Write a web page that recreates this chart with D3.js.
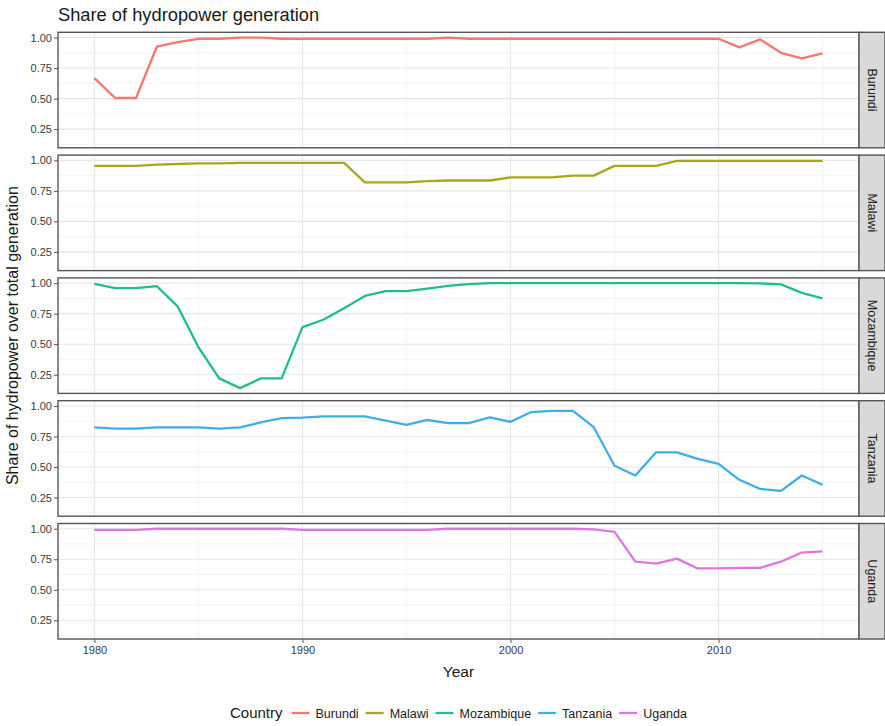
<!DOCTYPE html>
<html><head><meta charset="utf-8">
<script src="https://cdn.jsdelivr.net/npm/d3@7/dist/d3.min.js"></script>
<style>
body{margin:0;background:#fff;}
svg{display:block;font-family:"Liberation Sans",Arial,Helvetica,sans-serif;}
</style>
</head><body>
<svg id="chart" width="885" height="726"></svg>
<script>
// ---------------- DATA ----------------
const years = [1980,1981,1982,1983,1984,1985,1986,1987,1988,1989,
               1990,1991,1992,1993,1994,1995,1996,1997,1998,1999,
               2000,2001,2002,2003,2004,2005,2006,2007,2008,2009,
               2010,2011,2012,2013,2014,2015];

const countries = ["Burundi","Malawi","Mozambique","Tanzania","Uganda"];
const colors = ["#F47870","#A8A818","#22BE86","#3FAEE6","#DE76E2"];

const burundi = [0.667,0.505,0.505,0.925,0.962,0.99,0.99,1.0,1.0,0.99,
                 0.99,0.99,0.99,0.99,0.99,0.99,0.99,1.0,0.99,0.99,
                 0.99,0.99,0.99,0.99,0.99,0.99,0.99,0.99,0.99,0.99,
                 0.99,0.92,0.985,0.875,0.83,0.87];
const malawi = [0.955,0.955,0.955,0.965,0.97,0.975,0.975,0.98,0.98,0.98,
                0.98,0.98,0.98,0.82,0.82,0.82,0.83,0.835,0.835,0.835,
                0.86,0.86,0.86,0.875,0.875,0.955,0.955,0.955,0.995,0.995,
                0.995,0.995,0.995,0.995,0.995,0.995];
const mozambique = [0.995,0.96,0.96,0.975,0.81,0.475,0.22,0.14,0.22,0.22,
                    0.64,0.70,0.795,0.895,0.935,0.935,0.955,0.978,0.992,1.0,
                    1.0,1.0,1.0,1.0,1.0,1.0,1.0,1.0,1.0,1.0,
                    1.0,1.0,0.998,0.99,0.92,0.875];
const tanzania = [0.825,0.815,0.815,0.825,0.825,0.825,0.815,0.825,0.865,0.9,
                  0.905,0.915,0.915,0.915,0.88,0.845,0.885,0.86,0.86,0.907,
                  0.87,0.95,0.96,0.96,0.826,0.51,0.43,0.62,0.62,0.567,
                  0.526,0.395,0.32,0.305,0.43,0.355];
const uganda = [0.99,0.99,0.99,1.0,1.0,1.0,1.0,1.0,1.0,1.0,
                0.99,0.99,0.99,0.99,0.99,0.99,0.99,1.0,1.0,1.0,
                1.0,1.0,1.0,1.0,0.995,0.975,0.73,0.715,0.755,0.675,
                0.675,0.68,0.68,0.73,0.805,0.815];

const seriesValues = [burundi, malawi, mozambique, tanzania, uganda];

const xTicks = [1980,1990,2000,2010];
const xMinor = [1985,1995,2005,2015];
const yTicks = [0.25,0.50,0.75,1.00];
const yMinor = [0.125,0.375,0.625,0.875];

const titleText = "Share of hydropower generation";
const xTitle = "Year";
const yTitle = "Share of hydropower over total generation";
const legendTitle = "Country";

// ---------------- LAYOUT ----------------
const svg = d3.select("#chart");
const plotL = 58, plotR = 859, stripW = 26;
const top0 = 32.3, panelH = 115.5, gap = 7.3;
const FONT = '"Liberation Sans",Arial,Helvetica,sans-serif';

const xExt = d3.extent(years);
const xPad = (xExt[1]-xExt[0])*0.05;
const x = d3.scaleLinear().domain([xExt[0]-xPad, xExt[1]+xPad]).range([plotL, plotR]);

const allV = seriesValues.flat();
const yExt = d3.extent(allV);
const yPad = (yExt[1]-yExt[0])*0.05;
const yDomain = [yExt[0]-yPad, yExt[1]+yPad];

// Title
svg.append("text").attr("x", plotL).attr("y", 21)
  .attr("font-size", 18.3).attr("fill", "#1a1a1a").text(titleText);

countries.forEach((c, i) => {
  const pTop = top0 + i*(panelH+gap);
  const y = d3.scaleLinear().domain(yDomain).range([pTop+panelH, pTop]);
  const g = svg.append("g");

  g.append("rect").attr("x", plotL).attr("y", pTop).attr("width", plotR-plotL).attr("height", panelH)
    .attr("fill", "#fff");

  // minor grid
  g.selectAll(".ymin").data(yMinor.filter(v => v>yDomain[0] && v<yDomain[1])).join("line")
    .attr("x1", plotL).attr("x2", plotR).attr("y1", d=>y(d)).attr("y2", d=>y(d))
    .attr("stroke", "#EFEFEF").attr("stroke-width", 0.7);
  g.selectAll(".xmin").data(xMinor).join("line")
    .attr("y1", pTop).attr("y2", pTop+panelH).attr("x1", d=>x(d)).attr("x2", d=>x(d))
    .attr("stroke", "#EFEFEF").attr("stroke-width", 0.7);
  // major grid
  g.selectAll(".ymaj").data(yTicks).join("line")
    .attr("x1", plotL).attr("x2", plotR).attr("y1", d=>y(d)).attr("y2", d=>y(d))
    .attr("stroke", "#E6E6E6").attr("stroke-width", 1.1);
  g.selectAll(".xmaj").data(xTicks).join("line")
    .attr("y1", pTop).attr("y2", pTop+panelH).attr("x1", d=>x(d)).attr("x2", d=>x(d))
    .attr("stroke", "#E6E6E6").attr("stroke-width", 1.1);

  // line
  const data = years.map((yr, k) => ({yr, v: seriesValues[i][k]}));
  g.append("path").datum(data)
    .attr("fill", "none").attr("stroke", colors[i]).attr("stroke-width", 2.3)
    .attr("stroke-linejoin", "round")
    .attr("d", d3.line().x(d=>x(d.yr)).y(d=>y(d.v)));

  // border
  g.append("rect").attr("x", plotL).attr("y", pTop).attr("width", plotR-plotL).attr("height", panelH)
    .attr("fill", "none").attr("stroke", "#555").attr("stroke-width", 1.4);

  // y axis
  const ya = g.append("g").attr("transform", `translate(${plotL},0)`)
    .call(d3.axisLeft(y).tickValues(yTicks).tickFormat(d3.format(".2f")).tickSize(4).tickPadding(2));
  ya.select(".domain").remove();
  ya.selectAll("line").attr("stroke", "#555");
  ya.selectAll("text").attr("font-size", 11).attr("fill", "#3a3a3a").attr("font-family", FONT);

  // strip
  g.append("rect").attr("x", plotR).attr("y", pTop).attr("width", stripW).attr("height", panelH)
    .attr("fill", "#D9D9D9").attr("stroke", "#555").attr("stroke-width", 1.4);
  g.append("text")
    .attr("transform", `translate(${plotR+stripW/2},${pTop+panelH/2}) rotate(90)`)
    .attr("text-anchor", "middle").attr("dy", "0.35em")
    .attr("font-size", 12.5).attr("fill", "#222").text(c);

  if (i === countries.length-1) {
    const xa = g.append("g").attr("transform", `translate(0,${pTop+panelH})`)
      .call(d3.axisBottom(x).tickValues(xTicks).tickFormat(d3.format("d")).tickSize(4).tickPadding(3));
    xa.select(".domain").remove();
    xa.selectAll("line").attr("stroke", "#555");
    xa.selectAll("text").attr("font-size", 11).attr("fill", "#3a3a3a").attr("font-family", FONT);
  }
});

// axis titles
const bottomPanel = top0 + 5*panelH + 4*gap;
svg.append("text").attr("x", (plotL+plotR)/2).attr("y", 677)
  .attr("text-anchor", "middle").attr("font-size", 15.5).attr("fill", "#1a1a1a").text(xTitle);
svg.append("text")
  .attr("transform", `translate(18,${(top0+bottomPanel)/2}) rotate(-90)`)
  .attr("text-anchor", "middle").attr("font-size", 16).attr("fill", "#1a1a1a").text(yTitle);

// legend
const lg = svg.append("g");
const ly = 713;
const lt = lg.append("text").attr("x", 230).attr("y", ly+5).attr("font-size", 15).attr("fill", "#1a1a1a").text(legendTitle);
let cx = 230 + lt.node().getComputedTextLength() + 9;
countries.forEach((c, i) => {
  lg.append("line").attr("x1", cx).attr("x2", cx+18).attr("y1", ly).attr("y2", ly)
    .attr("stroke", colors[i]).attr("stroke-width", 2.3);
  const t = lg.append("text").attr("x", cx+24).attr("y", ly+4.5).attr("font-size", 12.5)
    .attr("fill", "#1a1a1a").text(c);
  cx = cx + 24 + t.node().getComputedTextLength() + 7;
});
</script>
</body></html>
